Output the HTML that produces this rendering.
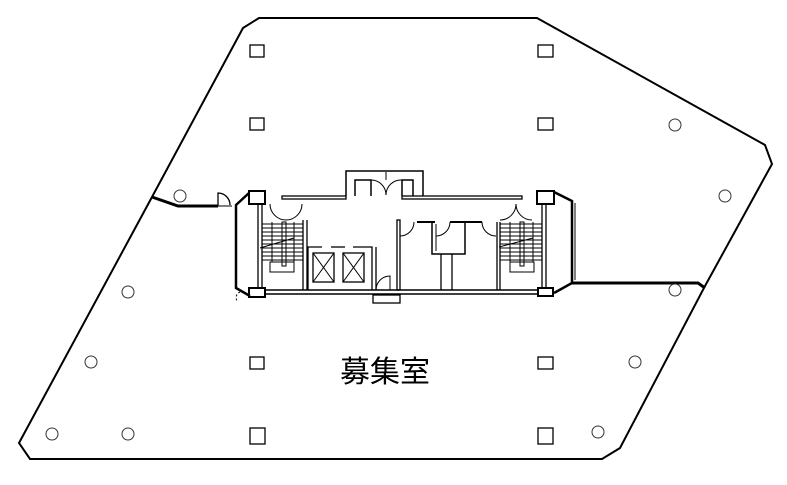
<!DOCTYPE html>
<html><head><meta charset="utf-8"><style>
html,body{margin:0;padding:0;background:#fff;}
svg{display:block;}
</style></head><body>
<svg width="787" height="485" viewBox="0 0 787 485" xmlns="http://www.w3.org/2000/svg">
<g fill="none" stroke="#000" stroke-linejoin="miter">
<!-- outline -->
<polygon points="259,18 537,18 765,145 772,164 705,286 620,448 602,459 30,459 19,443 152,197 243,28" stroke-width="2"/>
<!-- partitions -->
<polyline points="152,197 178,206 218,206" stroke-width="3"/>
<line x1="218" y1="206" x2="232" y2="206" stroke-width="1"/>
<path d="M218,206 V193 A12,12 0 0 1 230,205" stroke-width="1.3"/>
<polyline points="572,283 698,283 705,288" stroke-width="3"/>
<!-- core outer -->
<polyline points="249,193 236,205 236,288 250,296" stroke-width="2.5"/>
<polyline points="554,192 572,201 572,283 554,293" stroke-width="2.5"/>
<line x1="575" y1="203" x2="575" y2="280" stroke-width="1"/>
<!-- columns in core -->
<rect x="249" y="191" width="16" height="13" stroke-width="2"/>
<rect x="249" y="288" width="16" height="9" stroke-width="2"/>
<rect x="537" y="191" width="17" height="13" stroke-width="2"/>
<rect x="538" y="288" width="15" height="8" stroke-width="2"/>
<!-- inner long walls -->
<line x1="258" y1="204" x2="258" y2="289" stroke-width="1.3"/>
<line x1="262" y1="204" x2="262" y2="289" stroke-width="1.3"/>
<line x1="542" y1="204" x2="542" y2="289" stroke-width="1.3"/>
<line x1="546" y1="204" x2="546" y2="289" stroke-width="1.3"/>
<line x1="265" y1="290" x2="538" y2="290" stroke-width="1.5"/>
<line x1="265" y1="294" x2="538" y2="294" stroke-width="1.5"/>
<!-- top wall -->
<rect x="282" y="196" width="64" height="3" stroke-width="1.3"/>
<rect x="402" y="196" width="120" height="3" stroke-width="1.3"/>
<!-- elevator hall bump -->
<polyline points="346,196 346,171 423,171 423,196" stroke-width="1.5"/>
<polyline points="355,196 355,180 371,180 371,196" stroke-width="1.5"/>
<polyline points="402,196 402,180 413,180 413,196" stroke-width="1.5"/>
<line x1="386" y1="172" x2="386" y2="180" stroke-width="1"/>
<path d="M371,180 A15,15 0 0 1 386,195 M402,180 A15,15 0 0 0 386,195" stroke-width="1"/>
<!-- door arcs at stair entries -->
<path d="M270,204 A16,16 0 0 0 286,220 M302,204 A16,16 0 0 1 286,220" stroke-width="1"/>
<path d="M500,220 A16,16 0 0 0 516,204 M532,220 A16,16 0 0 1 516,204" stroke-width="1"/>
<!-- left stair -->
<line x1="303" y1="220" x2="303" y2="290" stroke-width="1.3"/>
<line x1="307" y1="220" x2="307" y2="290" stroke-width="1.3"/>
<g stroke-width="1">
<line x1="262" y1="224" x2="303" y2="224"/><line x1="262" y1="228" x2="303" y2="228"/><line x1="262" y1="232" x2="303" y2="232"/><line x1="262" y1="236" x2="303" y2="236"/><line x1="262" y1="240" x2="303" y2="240"/><line x1="262" y1="244" x2="303" y2="244"/><line x1="262" y1="248" x2="303" y2="248"/><line x1="262" y1="252" x2="303" y2="252"/><line x1="262" y1="256" x2="303" y2="256"/><line x1="262" y1="260" x2="303" y2="260"/>
<line x1="272" y1="222" x2="272" y2="262"/><line x1="294" y1="222" x2="294" y2="262"/>
<rect x="282" y="222" width="4" height="44"/>
<rect x="270" y="262" width="24" height="10"/>
<line x1="260" y1="248" x2="294" y2="238"/>
</g>
<!-- right stair -->
<line x1="497" y1="222" x2="497" y2="290" stroke-width="1.3"/>
<line x1="500" y1="222" x2="500" y2="290" stroke-width="1.3"/>
<g stroke-width="1">
<line x1="500" y1="224" x2="542" y2="224"/><line x1="500" y1="228" x2="542" y2="228"/><line x1="500" y1="232" x2="542" y2="232"/><line x1="500" y1="236" x2="542" y2="236"/><line x1="500" y1="240" x2="542" y2="240"/><line x1="500" y1="244" x2="542" y2="244"/><line x1="500" y1="248" x2="542" y2="248"/><line x1="500" y1="252" x2="542" y2="252"/><line x1="500" y1="256" x2="542" y2="256"/><line x1="500" y1="260" x2="542" y2="260"/>
<line x1="510" y1="222" x2="510" y2="262"/><line x1="533" y1="222" x2="533" y2="262"/>
<rect x="520" y="222" width="4" height="44"/>
<rect x="510" y="262" width="24" height="10"/>
<line x1="499" y1="247" x2="533" y2="238"/>
</g>
<!-- elevators -->
<polyline points="308,290 308,247 322,247" stroke-width="1.3"/>
<line x1="331" y1="247" x2="345" y2="247" stroke-width="1.3"/>
<polyline points="353,247 372,247 372,290" stroke-width="1.3"/>
<line x1="376" y1="247" x2="376" y2="290" stroke-width="1.3"/>
<rect x="313" y="253" width="21" height="29" stroke-width="1.3"/>
<rect x="343" y="253" width="21" height="29" stroke-width="1.3"/>
<path d="M313,253 L334,282 M334,253 L313,282 M343,253 L364,282 M364,253 L343,282" stroke-width="1"/>
<path d="M376,290 A14,14 0 0 1 390,276 V290" stroke-width="1"/>
<rect x="373" y="295" width="27" height="8" stroke-width="1.3"/>
<!-- middle rooms -->
<rect x="397" y="220" width="3" height="70" stroke-width="1.3"/>
<path d="M400,236 A14,14 0 0 0 414,222" stroke-width="1"/>
<line x1="417" y1="222" x2="435" y2="222" stroke-width="2"/>
<line x1="450" y1="222" x2="482" y2="222" stroke-width="2"/>
<polyline points="432,222 432,254 465,254 465,222" stroke-width="1.5"/>
<line x1="436" y1="224" x2="436" y2="251" stroke-width="1"/>
<path d="M436,236 A14,14 0 0 0 450,222 M482,222 A14,14 0 0 0 496,236" stroke-width="1"/>
<line x1="441" y1="254" x2="441" y2="290" stroke-width="1.3"/>
<line x1="452" y1="254" x2="452" y2="290" stroke-width="1.3"/>
<!-- small dashed door -->
<path d="M240,292 A6,6 0 0 0 238,302" stroke-width="1" stroke-dasharray="2,2"/>
<!-- columns -->
<g stroke-width="1.3">
<rect x="250" y="45" width="14" height="12"/><rect x="538" y="45" width="15" height="12"/>
<rect x="250" y="118" width="14" height="12"/><rect x="538" y="118" width="15" height="12"/>
<rect x="250" y="357" width="14" height="12"/><rect x="538" y="357" width="15" height="12"/>
<rect x="250" y="428" width="15" height="16"/><rect x="538" y="428" width="15" height="16"/>
</g>
<g stroke-width="1" stroke="#333">
<circle cx="180" cy="196" r="6"/><circle cx="675" cy="125" r="6"/><circle cx="725" cy="196" r="6"/>
<circle cx="128" cy="292" r="6"/><circle cx="675" cy="290" r="6"/><circle cx="91" cy="362" r="6"/>
<circle cx="635" cy="362" r="6"/><circle cx="52" cy="434" r="6"/><circle cx="128" cy="434" r="6"/>
<circle cx="598" cy="432" r="6"/>
</g>
</g>
<text x="385" y="382" font-family="'Liberation Sans','Noto Sans CJK JP',sans-serif" font-size="30" text-anchor="middle" fill="#000">募集室</text>
</svg>
</body></html>
